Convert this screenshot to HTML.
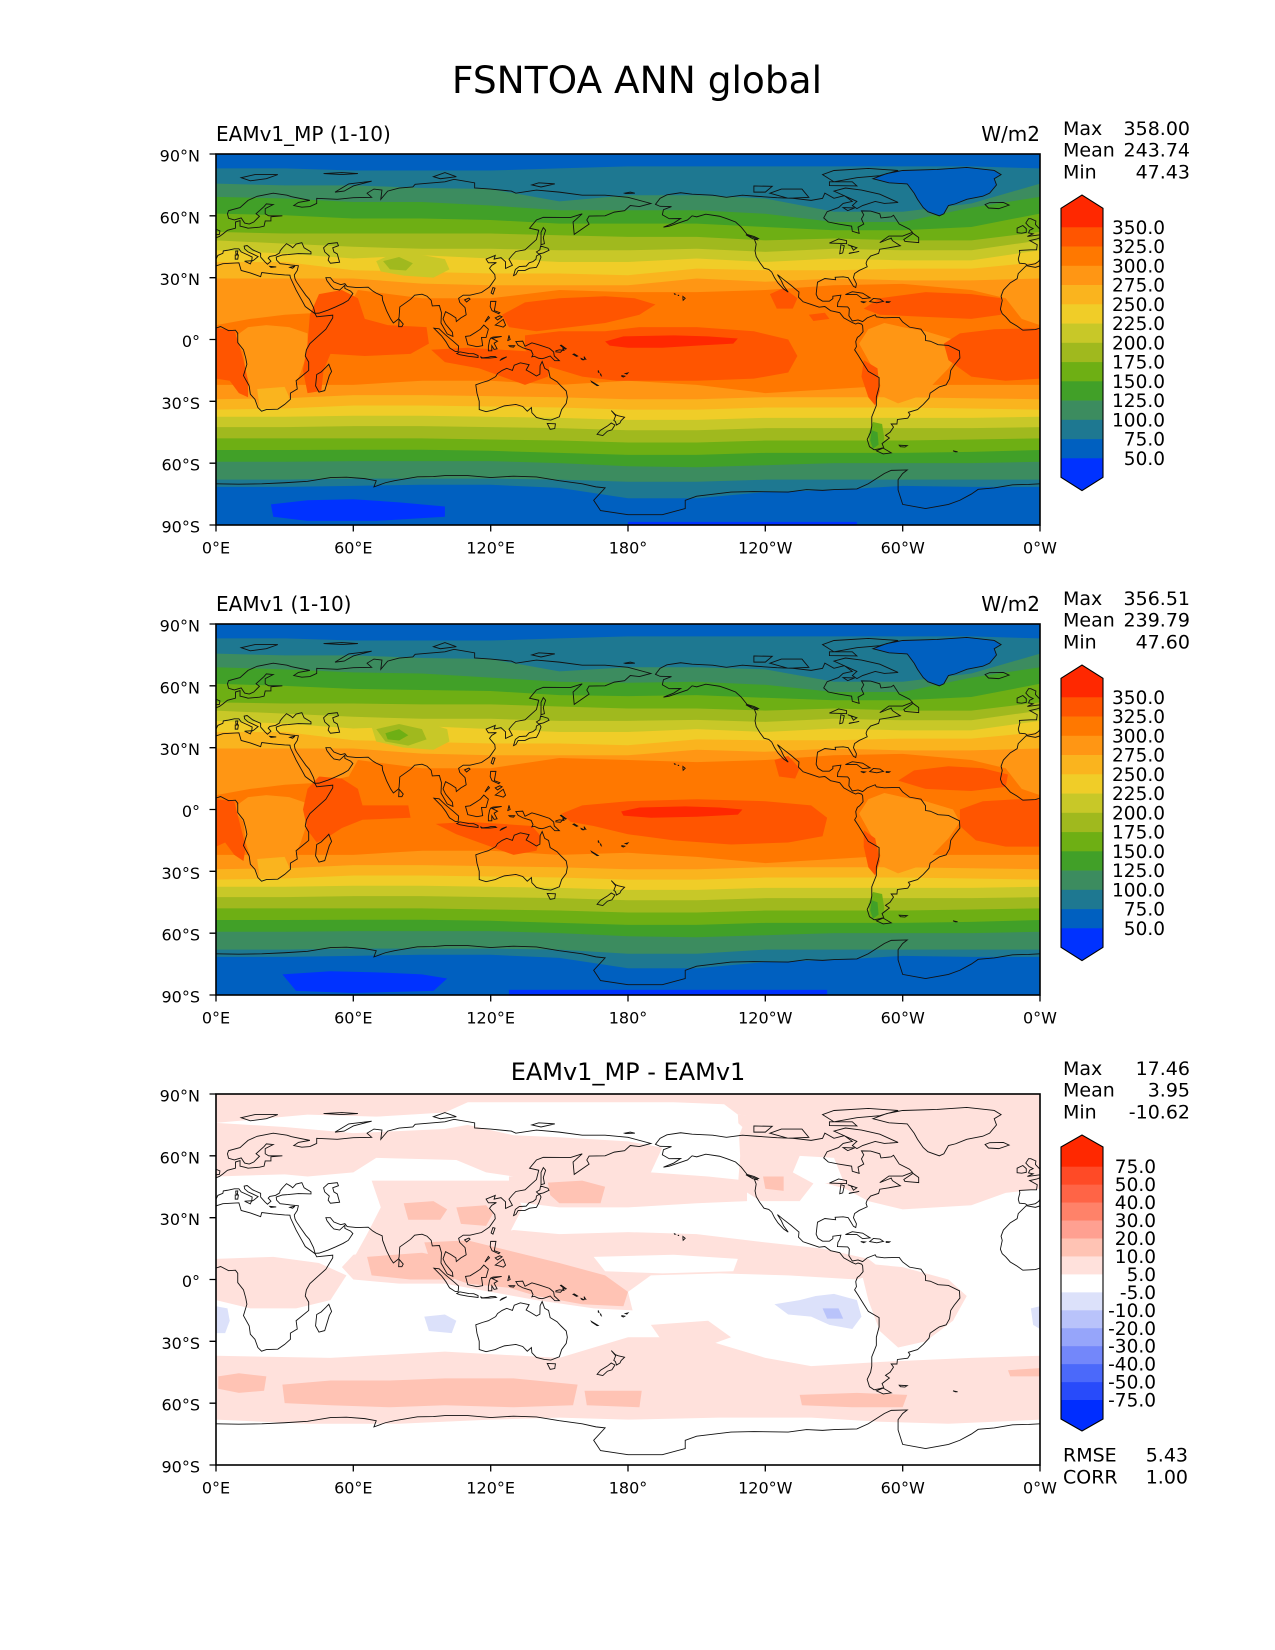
<!DOCTYPE html>
<html><head><meta charset="utf-8">
<style>
html,body{margin:0;padding:0;background:#fff}
svg{display:block}
text{font-family:"DejaVu Sans","Liberation Sans",sans-serif;fill:#000}
</style></head><body>
<svg width="1275" height="1650" viewBox="0 0 1275 1650" xmlns="http://www.w3.org/2000/svg">
<rect width="1275" height="1650" fill="#fff"/>
<defs>
<g id="coast" fill="none" stroke="#111" stroke-width="0.9">
<path vector-effect="non-scaling-stroke" d="M-17 21 -16 24 -13 27.5 -10 29.5 -9.5 32 -6 35.8 -2 35 3 36.8 10 37.2 11 33.5 15 32.3 19.5 30.5 20 32.5 25 31.8 30 31.3 32.3 31.2 32.5 30 35 24 37.5 19 39 16 43.3 12.5 44 11 51 11.8 51 10.5 48 5 44 1 41 -2 39.5 -5 39 -8 40.5 -11 40.5 -15 35 -20 35.5 -24 32.5 -26 32.5 -29 30 -31.5 27 -33.8 22 -34 19.9 -34.8 18.3 -33 17 -29 15 -26.5 14.5 -22.5 12 -17.5 13.5 -12 13 -9 12 -5 9.5 -1.5 9.5 3 8.5 4.5 5.5 4.3 2 6.3 -2 4.8 -7.5 4.5 -10 6.5 -13 8.5 -15 11 -16.5 12.5 -17.3 14.7 -16.5 19Z
M-9 37 -9.5 39 -8.8 42 -9 43.2 -4 43.5 -1.5 43.5 -1.2 46 -4.5 48 -1.5 48.7 1.5 50 3 51.2 5 53 8.5 54 8.5 57 10.5 57.7 10.5 55 12.5 54.5 14 54 19 54.5 21 55 21.5 57.5 24 57.5 24 59.5 29 60 23 60 21.5 61 21.5 63.5 25 65.5 22 65.8 21 64.5 17.5 61 19 59.8 16.5 57 14.5 56 12.5 56.5 11 59 8 58 5.5 58.8 5 61 5.5 62.5 10.5 64 14 67.5 18 69.5 25 71 31 70 33 69.3 41 67.5 36 66.5 34 65 37.5 64.2 41 64.5 44 66 44 68.5 53 68 60 68.8 68 69 66 71 69 73 72.5 72.5 72 68 75 72 80 73.5 86 74 87 75.3 100 76.5 104 77.7 113 76 113 73.5 120 73 129 72 131 71 140 72.5 150 71.5 160 70 170 70 180 69 190 66 185 64.5 181 65 178.5 62.5 174 61.8 170 60 163 59.9 162 58 163 56 156.5 51 156 57 160 61 155 59.2 151 59.2 143 59.3 140 58 137 54 141 53 140 48.5 135 43.5 131 42.7 129.5 41 128 39 129.5 36 126.5 34.5 126.5 37.7 124.5 39.7 121.5 39 122 40.8 118 39 119 37.2 122.5 37.3 120.5 36 119.5 34.5 121.8 31.5 122 29.5 119.5 25.5 116 22.8 111 21.5 108 21.5 106 20 106.5 18 108.8 15.5 109.3 12 107 10.5 105 8.7 104.8 10.5 102.5 12.2 100.3 13.5 99.2 10 100.3 7.5 103.3 3.5 103.5 1.5 101 2.7 98.3 8 98.5 13 97.6 16.5 94.5 16.3 94 19 92.2 21 90 22 86.8 21.5 85 19.5 80.3 15.8 80 11 79.8 10 77.5 8 76.3 10 74.5 14 72.8 19 72.6 21.2 70 22.5 68.5 23.5 66.5 25.4 61.5 25.2 57.3 25.7 56.3 27.1 54.5 26.6 51.5 27.9 50 30 48 30 48.5 28.5 50.2 26 51.5 24.5 54 24 56.3 26.3 56.3 24.8 58.8 23.5 59.8 22.3 57.8 19 55.5 17.5 52.2 15.8 49 14.3 45 12.8 43.3 12.7 42.6 15.5 40.8 19.5 39.2 21.5 37 25 35.1 28.1 34.5 29.5 34.2 31.3 35.5 33.5 36 35.8 32.5 36.2 30.5 36.5 28 36.8 26.5 38.5 26.3 40 29 41 31.5 41.2 36 41.7 41.5 41.5 41.5 42.5 38.5 44.5 37.5 47 35 46.3 33.5 44.5 32.5 45.4 30.8 46.5 29.5 45 28.7 44 28 43 27.8 42 26 40.8 23.5 40.3 22.8 39.5 24 38 22.5 36.5 21.5 37.5 19.5 40 19.5 41.8 16 43.5 13.6 45.6 12.3 45.3 12.5 44 14 42.5 16 41.5 18.4 40.2 16.5 38.5 15.6 38 15.8 40 14 41 11 42.5 10 44 8 44 5 43.3 3.2 43 3 41.8 0.8 40.8 0 39 -0.5 38 -2 36.8 -5.5 36 -6.5 36.8Z
M47 44.5 49 46.5 53 47 53.5 45.5 51 44.5 51.5 42.5 53 41.5 54 37.5 50 37 49 38.5 49.5 40.5 47.5 42.5Z
M-5.5 50 1.5 51 1.7 52.7 0 53.5 -2 55.8 -1.8 57.5 -4 58.6 -5 58.6 -6.2 56.5 -4.8 54.8 -3 53.8 -4.5 53 -5 51.7 -3 51.3Z
M-6 52 -6 53.8 -7.5 55.3 -10 54 -10 51.8 -8 51.6Z
M-24 65.5 -22 66.4 -16 66.5 -13.5 65.2 -18 63.5 -22.5 63.8Z
M12.5 38 15.6 38.2 15 36.7Z M8.4 41 9.8 41 9.5 39 8.4 39Z M8.6 42.9 9.5 43 9.4 41.4 8.7 41.6Z M23.5 35.5 26.3 35.2 24 35Z M32.3 35 34.5 35.6 33.5 34.6Z
M52 71.5 55 73.5 58 75.5 68 76.8 60 74.5 56 72Z
M11 78.5 17 80 27 80 22 78 15 77Z
M47 80.5 55 81 62 80.5 55 80Z
M95 79 100 81 105 79 98 78Z
M138 75 141 76 148 75.5 142 74Z
M178.5 71 181 71.5 183 71 179 70.8Z
M130 31 131 31.5 132 33.5 135 33.5 137 34.6 140 35 141 37 142 40 141.4 41.4 140 40.5 139.8 39 138.5 37.8 136.8 37.2 135.5 35.6 132.5 35.4 130.8 34Z
M140 42.5 141 41.5 143 42 145.5 43.3 145 44.3 141.8 45.4 141.5 43.5Z
M142 46 143.5 46.5 143 49.5 144 53 143 54.3 142 52 142 48Z
M120.2 22.6 121 25.2 121.9 24.9 121 22Z
M108.6 19.2 110.5 20.1 111 19.6 109.5 18.2Z
M120 18.5 122.3 18.5 122 16.5 121.6 14 124 13 123.5 12.5 120.6 14 119.8 16Z
M122 7 125.5 9.8 126.5 7 125.5 6 124 6.5Z
M122 10.5 124 11.5 125 11 123 9.5Z
M118 9 119.5 10.5 119 11.2 117.5 8.5Z
M109 1.5 110 -2.5 114 -3.5 116.5 -3 116 1 118 1 119 5 117 7 115.5 5 113.5 3.5 111 1.8Z
M95.2 5.5 97.5 5.2 100.3 2.2 103.8 -1 106 -3.2 105.8 -5.8 104.5 -5.8 102 -4 100.4 -1 98.6 1.7Z
M105.2 -6.8 106.5 -6 110.5 -6.8 112.6 -6.9 114.5 -7.8 114.5 -8.7 110 -8.1 106.5 -7.4Z
M119 -5.5 120.5 -5.5 120.5 -3 121.5 -4.8 122.8 -4.5 121.5 -1.8 123 -0.8 120.5 0.5 124.8 1.5 121 1.2 120 0.7 119.5 -0.5 119 -3.5Z
M115.5 -8.3 116.5 -8.9 119 -8.6 120 -8.3 122 -8.3 122.5 -8.7 119.5 -9 116 -9Z
M124 -10.2 125 -9.2 127 -8.4 125.5 -9.3Z
M128 2 128.5 0 127.5 -0.5Z M128 -3 130.5 -3 130 -3.7 128.5 -3.5Z
M131 -1 134 -0.8 135 -3.3 138 -1.6 141 -2.6 145.7 -4.3 147.5 -6 147.8 -8 150 -10.3 148 -10.3 146 -8 143.5 -9 142.5 -9.3 141 -9.1 139 -8.1 138 -8.4 138.5 -7.3 137.7 -5.3 134 -4 132 -2.8Z
M148.5 -5.5 150 -5 152 -5.3 151.5 -4.5 152.2 -4.2 150.5 -6.2 148.5 -6Z
M150.8 -2.7 153 -4.5 152.5 -4.7 150.5 -2.9Z
M156.5 -7 158 -8 157.5 -8.2 156 -7.2Z M159.5 -9.2 160.8 -9.8 160.3 -9.9 159.6 -9.5Z M160.8 -8.3 161.5 -9.5 161 -9.3Z
M167 -15 167.3 -16 167 -15.8Z M168 -16.5 168.3 -17.5 168 -17.2Z
M164 -20.3 167 -22.3 166.5 -22.4 164.2 -20.7Z
M177.3 -17.5 178.6 -17.8 178 -18.2 177.3 -17.9Z M178.8 -16.5 180 -16.2 179.5 -16.8Z
M113.5 -22 114 -26 115 -30 115 -34 118 -35 122 -34 124 -33 126 -32.2 131 -31.5 134 -32.5 136 -34.8 137.8 -33 138 -35.5 140 -37.8 143.5 -38.8 146.3 -39.1 150 -37.5 151 -34 153 -31 153.5 -28 153 -25 150.7 -22.5 149 -20.5 146 -18.5 145.3 -15 143.6 -14 142.5 -10.7 141.6 -12.7 141.5 -16.8 140 -17.7 137.5 -16 135.5 -14.8 136.8 -12.2 133 -11.3 130.3 -12.5 129.5 -15 127 -14 125 -15 123 -16.5 122.2 -18 119 -20 116.5 -20.8Z
M144.7 -40.7 148.3 -40.9 148 -43.2 146 -43.6Z
M172.7 -34.5 174.5 -36.5 175.8 -37 178.5 -37.7 177 -39.3 176.5 -40.5 175 -41.5 174.5 -39.8 173.8 -39.2 174.6 -37Z
M172.7 -40.5 174.3 -41.5 173 -43.8 171 -44.5 169 -46.6 166.5 -46 168 -44 171 -42Z
M49.3 -12 50.5 -15.5 49.5 -17.5 47.5 -24.8 45 -25.5 43.5 -22.5 44 -17 46 -15.7 48 -13.5Z
M79.8 6.2 80 9.8 81.8 7.5 81.2 6.2Z
M-168 65.6 -166 68.5 -163 70.2 -157 71.2 -152 70.5 -143 70 -137 69 -130 70 -124 69.5 -115 68.8 -108 68.5 -100 67.5 -95 68.5 -94 71 -90 68.5 -85.5 69.8 -82 67 -86 66 -88 64 -93 62 -94.5 59 -92.5 57 -88 56 -82.3 55 -82 52.5 -79 51.5 -79.5 54.5 -77 56 -78 58.5 -77 60.5 -78 62.4 -74 62.3 -70 61 -69.5 59 -65 59.5 -64 60.3 -61.5 56 -57 53.5 -55.7 52 -60 50.2 -66 50.2 -70 47 -65 49.2 -64.5 48 -61 45.5 -66 44.5 -70 43.8 -70.5 41.8 -74 40.5 -75.5 38.5 -76 37 -75.5 35.3 -77 34.5 -79 33.5 -81 32 -81.5 30 -80.2 27 -80.5 25.2 -81.5 25.8 -82.7 28 -83.8 30 -86 30.4 -89.5 30.2 -89.3 29 -91 29.2 -94 29.6 -97.2 27.8 -97.5 25 -97.8 22 -97 20 -95 18.6 -92 18.6 -90.5 19.8 -90.5 21 -87 21.5 -87.5 19.5 -88.3 18 -88.5 16 -84 15.8 -83.3 14.8 -83.5 11.5 -82 9 -79.5 9.5 -77.5 8.7 -75.5 10.5 -72 12 -71.5 11 -68 10.5 -64 10.7 -61.5 10.7 -60 8.5 -57 6 -52 5 -50 1.8 -50 -0.5 -48 -0.8 -44.5 -2.5 -40 -2.9 -35.2 -5.5 -35 -9 -37.5 -12.5 -39 -15 -39.5 -19 -41 -22 -44 -23 -48 -26 -48.5 -28.5 -51 -31.5 -53.5 -34 -57.5 -35.3 -56.8 -36.5 -57.8 -38.2 -62.3 -38.8 -62.5 -41 -65 -41 -64 -42.5 -65.5 -45 -67.5 -46.5 -65.8 -47.8 -69 -50.5 -68.3 -52.4 -70 -53 -72.5 -53.5 -74.5 -52 -75.5 -48.5 -74 -45 -73.5 -42 -73.5 -37.5 -71.5 -32 -71.5 -28 -70.3 -23 -70.3 -18.5 -75 -15.5 -77 -12 -79.5 -7.5 -81 -5 -80.2 -3.5 -80.5 -1 -79.8 1 -78.8 1.8 -77.3 3.8 -77.5 6.8 -78 7.5 -79.5 8 -80.5 7.5 -82 8.2 -85.7 10.5 -87.5 13 -91.5 14 -94 16 -96.5 15.7 -100 17 -103.5 18.3 -105.5 20.5 -105.3 23 -109 26.5 -112.5 29.5 -114.7 31.5 -113 28.5 -112 26 -110 23 -112 24.5 -114.5 27.5 -116 30 -117.2 32.7 -118.5 34 -120.6 34.6 -122.5 37.5 -124 40.3 -124.5 43 -124 46.3 -124.7 48.4 -123 49 -125 50 -128 51 -130.5 54.5 -133 57 -136.5 58.5 -140 59.8 -146 60.8 -150 59.5 -152 60 -154 58 -158 56.5 -162 55 -164.5 54.5 -160 56.5 -157 58.7 -162 58.6 -165 60.5 -164.5 63 -161 64.5 -166 64.6Z
M-80 63.5 -77.5 65 -72 67 -68 66 -62 66.5 -66 68.5 -70 70.5 -78 72.5 -85 73.5 -90 72 -85 69.5 -80 67 -82 65Z
M-118 71 -110 68.5 -101 69 -104 73 -113 73Z
M-125 71.5 -120 71.5 -117 74.3 -125 74.5Z
M-90 76.5 -80 78.5 -70 79.5 -62 82 -75 83 -90 82 -95 80Z
M-92 74.7 -80 74.5 -82 76.5 -92 76.5Z
M-86 64 -81 63.8 -84 62.5Z
M-59 47.6 -53 47 -53 49.5 -55.5 51.5 -59.5 48.5Z
M-128.5 50.8 -124 49 -123.5 48.4 -125.5 48.9Z
M-92 46.8 -84.5 46.5 -84.5 48 -88 48.8Z M-87.5 41.6 -87 46 -85.5 45.5 -86.2 42Z M-84 46 -80 44.5 -81.5 43.3 -82.5 45.3Z M-83.5 41.7 -79 42.8 -80 42.5 -83 42Z
M-73 78 -66 76 -58 75.5 -55 71 -53.5 68 -51 64 -49 62 -44 60 -42 61 -40 65 -37 65.8 -32 68 -25 69.5 -22 71 -19 75 -20 78 -17 80 -20 82 -32 83.5 -45 82.5 -60 82 -67 80.5Z
M-85 21.8 -82 23.2 -77.5 22.5 -74.2 20.2 -77.5 19.8 -80 21.8Z
M-74.4 18.4 -72.8 19.9 -69.9 19.6 -68.4 18.5 -71.3 17.8Z
M-78.3 18.4 -76.3 18.2 -77 17.8Z M-67.2 18.4 -65.6 18.3 -66 18 -67.2 18Z
M-156 20.9 -155 20 -155.9 19 -156 19.8Z M-158.2 21.6 -157.7 21.3 -158 21.3Z M-159.7 22.2 -159.3 22 -159.6 21.9Z
M-68.5 -52.7 -65 -55 -68.5 -55.5 -71.5 -54Z
M-61.5 -51.3 -58 -51.5 -59 -52.2 -61 -52Z
M-38 -54 -36 -54.5 -37 -54.5Z
M0 -70 10 -70.2 20 -70 30 -69.5 40 -68.8 50 -67 57 -66.8 65 -67.5 70 -68.5 69 -71.5 74 -69.5 78 -68.5 88 -66.6 95 -66.5 100 -66 110 -66 120 -67 130 -66.3 140 -66.7 150 -68.5 160 -70 166 -71.5 170 -72 165 -78 168 -83 180 -85 195 -85 205 -82 205 -78 210 -76 225 -74 235 -73.8 250 -74 258 -72.8 265 -73.2 270 -72.8 280 -72.5 285 -70 292 -65 295 -63.5 302 -63.3 300 -65 298 -68 298 -73 300 -80 310 -82 320 -80 325 -78 330 -75 333 -72.7 340 -72 348 -70.5 355 -70.3 360 -70"/>
</g>
</defs>

<text x="637" y="93" font-size="37.5" text-anchor="middle">FSNTOA ANN global</text>

<!-- ============ MAP 1 ============ -->
<g>
<svg x="216" y="154" width="824" height="371" viewBox="0 0 360 180" preserveAspectRatio="none">
<rect x="0" y="0" width="360" height="180" fill="#0060c0"/>
<path fill="#1e7891" d="M0 7 30 7 60 8 90 8 120 8 150 7 180 6 210 6 240 6 270 6 300 6 330 6 360 7 360 161.5 330 161.5 300 161 270 163 240 164 210 167 180 167 150 162 120 160.5 90 160.5 60 161 30 161.5 0 161.5Z"/>
<path fill="#3c8c5f" d="M0 14.4 30 15.2 60 15.2 90 16.5 120 17 150 23 180 20 210 20 240 21.6 270 28 300 28 330 24 360 14.4 360 158 330 158 300 158 270 158 240 158 210 159 180 159 150 158 120 157.5 90 157.5 60 157.5 30 158 0 158Z"/>
<path fill="#41a028" d="M0 20.8 30 21.6 60 23.3 90 23.3 120 25 150 27.3 180 27.3 210 27.3 240 29 270 33 300 33 330 26 360 20.8 360 149.3 330 150 300 150 270 150 240 151 210 152 180 151.5 150 150 120 149 90 149 60 149 30 149.3 0 149.3Z"/>
<path fill="#6eaf14" d="M0 28.9 30 29.7 60 31.3 90 31.3 120 32 150 33.8 180 33.8 210 33.8 240 35.4 270 37 300 37 330 35.4 360 28.9 360 143.6 330 144.5 300 145 270 145 240 145 210 146 180 146 150 145 120 144 90 143.5 60 143.5 30 143.6 0 143.6Z"/>
<path fill="#a0b91e" d="M0 37.8 30 38.6 60 38.6 90 38.6 120 38.6 150 39.4 180 40.2 210 40.2 240 41.9 270 41 300 41.9 330 41.9 360 37.8 360 138 330 138.5 300 139 270 139 240 139 210 140 180 140 150 139 120 138.5 90 138 60 138 30 138 0 138Z"/>
<path fill="#c8c828" d="M0 41.9 30 43.5 60 45 90 46 120 46 150 46.7 180 46.7 210 46 240 47.5 270 46 300 46.7 330 46.7 360 41.9 360 132.5 330 133 300 133 270 133 240 133 210 134 180 134 150 133 120 132.5 90 132 60 132 30 132.5 0 132.5Z"/>
<path fill="#f0cd28" d="M0 46.7 30 48.3 60 50.7 90 49.1 120 50.7 150 52.4 180 52.4 210 50.7 240 52.4 270 50.7 300 51.6 330 51.6 360 46.7 360 127.5 330 128 300 128 270 128 240 128 210 129 180 129 150 128 120 127.5 90 127 60 127 30 127.5 0 127.5Z"/>
<path fill="#fab41e" d="M0 52.4 30 52.4 60 56.4 90 57.2 120 58 150 58 180 58.8 210 55.6 240 56.4 270 56.4 300 55.6 330 55.6 360 52.4 360 124 330 123.5 300 123 270 123 240 123 210 124 180 124 150 123 120 122.5 90 122 60 122 30 123.5 0 124Z"/>
<path fill="#ff9614" d="M0 60.4 30 60.4 60 60.4 90 62.9 120 63.7 150 63.7 180 63.7 210 60.4 240 62 270 60.4 300 61.3 330 61.3 360 60.4 360 119 330 118.5 300 118 270 118 240 118 210 119 180 119 150 118 120 117.5 90 117 60 117 30 118.5 0 119Z"/>
<path fill="#ff7800" d="M0 83 15 80 30 78 45 77 58 74 62 66 90 70 120 70 150 66 180 67 210 67 240 66 270 63.7 300 63 330 66 345 70 352 80 360 83 360 112 330 112 300 112 270 114 240 116 210 112 180 110 150 112 120 110 90 110 60 112 30 112 0 112Z"/>
<path fill="#c8c828" d="M70 52 78 48 90 49 100 51 102 56 95 60 82 59 72 57Z"/>
<path fill="#a0b91e" d="M73 52 80 50 86 53 83 56.5 76 56Z"/>
<path fill="#ff9614" d="M9 88 14 84 22 83 32 84 40 87 40 96 37 106 33 116 26 122 19 123 16 116 13 106 12 96 9 92Z"/>
<path fill="#fab41e" d="M18 114 30 113 32 118 27 123 19 123Z"/>
<path fill="#ff9614" d="M281 92 285 85 292 82 300 84 310 86 322 90 325 96 320 104 313 112 306 118 298 121 292 118 289 108 285 100Z"/>
<path fill="#6eaf14" d="M287 130 291 131 292 138 290 144 286 143 285 136Z"/>
<path fill="#41a028" d="M286.5 134 289 135 289.5 141 287 143 285.8 139Z"/>
<g fill="#ff5500">
<path d="M318 92 325 87 340 85 360 84.5 360 109 345 110 330 108 320 100Z"/>
<path d="M0 84.5 8 85.5 10 92 12 100 14 110 14 118 10 116 6 110 0 109Z"/>
<path d="M283 75 290 70 310 67 330 68 343 70 343 78 330 80 310 79 290 78Z"/>
<path d="M41 78 45 68 55 66 62 70 65 80 75 83 92 84 93 92 85 97 65 98 50 97 47 105 46 115 40 116 38 105 40 92Z"/>
<path d="M94 95 110 94 125 95 140 96 146 100 145 108 135 112 125 108 115 104 100 101Z"/>
<path d="M125 78 135 72 150 70 170 69 183 70 192 73 185 78 170 82 155 84 140 86 128 84Z"/>
<path d="M135 88 150 86 170 86 185 84 210 84 235 86 250 90 254 98 250 106 235 109 210 110 190 110 175 110 160 108 145 103 135 95Z"/>
<path d="M242 68 248 65 254 70 252 75 245 75Z"/>
<path d="M283 100 289 104 290 115 288 122 285 118 282 108Z"/>
<path d="M259 78 266 77 268 80 261 81Z"/>
</g>
<path fill="#ff2800" d="M170 91 178 88.5 200 88 215 88.5 228 89.5 226 92 210 93 195 94 180 94 172 93Z"/>
<path fill="#0032ff" d="M24 170 40 168 60 167.5 80 169 100 171 100 176 70 178 40 178 25 176Z"/>
<rect x="180" y="178.5" width="100" height="1.5" fill="#0032ff"/>
<g transform="translate(0 90) scale(1 -1)">
<path fill="#0060c0" d="M287 78 294 76 302 75.5 305 71 306.5 68 309 64 311 62 316 60 318 61 320 65 323 65.8 328 68 335 69.5 338 71 341 75 340 78 343 80 340 82 328 83.5 315 82.5 300 82 293 80.5Z"/>
<use href="#coast"/><use href="#coast" x="360"/>
</g>
</svg>
<rect x="216" y="154" width="824" height="371" fill="none" stroke="#000" stroke-width="1.6"/>
<path stroke="#000" stroke-width="1.3" fill="none" d="M209.5 154H216M209.5 215.8H216M209.5 277.7H216M209.5 339.5H216M209.5 401.3H216M209.5 463.2H216M209.5 525H216M216 525V531.5M353.3 525V531.5M490.7 525V531.5M628 525V531.5M765.3 525V531.5M902.7 525V531.5M1040 525V531.5"/>
<g font-size="16" text-anchor="end">
<text x="200" y="161.5">90°N</text><text x="200" y="223.3">60°N</text><text x="200" y="285.2">30°N</text><text x="200" y="347">0°</text><text x="200" y="408.8">30°S</text><text x="200" y="470.7">60°S</text><text x="200" y="532.5">90°S</text>
</g>
<g font-size="16" text-anchor="middle">
<text x="216" y="553.3">0°E</text><text x="353.3" y="553.3">60°E</text><text x="490.7" y="553.3">120°E</text><text x="628" y="553.3">180°</text><text x="765.3" y="553.3">120°W</text><text x="902.7" y="553.3">60°W</text><text x="1040" y="553.3">0°W</text>
</g>
<text x="216" y="141" font-size="20">EAMv1_MP (1-10)</text>
<text x="1040" y="141" font-size="20" text-anchor="end">W/m2</text>
<g font-size="19">
<text x="1063" y="135">Max</text><text x="1063" y="156.7">Mean</text><text x="1063" y="178.3">Min</text>
<text x="1190" y="135" text-anchor="end">358.00</text><text x="1190" y="156.7" text-anchor="end">243.74</text><text x="1190" y="178.3" text-anchor="end">47.43</text>
</g>
<path fill="#ff2800" d="M1061 227.6V208.3L1082 195L1103 208.3V227.6Z"/>
<rect x="1061" y="227.3" width="42" height="19.6" fill="#ff5500"/>
<rect x="1061" y="246.55" width="42" height="19.6" fill="#ff7800"/>
<rect x="1061" y="265.8" width="42" height="19.6" fill="#ff9614"/>
<rect x="1061" y="285.05" width="42" height="19.6" fill="#fab41e"/>
<rect x="1061" y="304.3" width="42" height="19.6" fill="#f0cd28"/>
<rect x="1061" y="323.55" width="42" height="19.6" fill="#c8c828"/>
<rect x="1061" y="342.8" width="42" height="19.6" fill="#a0b91e"/>
<rect x="1061" y="362.05" width="42" height="19.6" fill="#6eaf14"/>
<rect x="1061" y="381.3" width="42" height="19.6" fill="#41a028"/>
<rect x="1061" y="400.55" width="42" height="19.6" fill="#3c8c5f"/>
<rect x="1061" y="419.8" width="42" height="19.6" fill="#1e7891"/>
<rect x="1061" y="439.05" width="42" height="19.6" fill="#0060c0"/>
<path fill="#0032ff" d="M1061 458.3V477.3L1082 490.6L1103 477.3V458.3Z"/>
<path fill="none" stroke="#000" stroke-width="1.1" d="M1061 208.3L1082 195L1103 208.3V477.3L1082 490.6L1061 477.3Z"/>
<g font-size="18.5" text-anchor="end">
<text x="1165" y="233.8">350.0</text><text x="1165" y="253.05">325.0</text><text x="1165" y="272.3">300.0</text><text x="1165" y="291.55">275.0</text><text x="1165" y="310.8">250.0</text><text x="1165" y="330.05">225.0</text><text x="1165" y="349.3">200.0</text><text x="1165" y="368.55">175.0</text><text x="1165" y="387.8">150.0</text><text x="1165" y="407.05">125.0</text><text x="1165" y="426.3">100.0</text><text x="1165" y="445.55">75.0</text><text x="1165" y="464.8">50.0</text>
</g>
</g>

<!-- ============ MAP 2 ============ -->
<g transform="translate(0 470)">
<svg x="216" y="154" width="824" height="371" viewBox="0 0 360 180" preserveAspectRatio="none">
<rect x="0" y="0" width="360" height="180" fill="#0060c0"/>
<path fill="#1e7891" d="M0 7 30 7 60 8 90 8 120 8 150 7 180 6 210 6 240 6 270 6 300 6 330 6 360 7 360 161.5 330 161.5 300 161 270 163 240 164 210 167 180 167 150 162 120 160.5 90 160.5 60 161 30 161.5 0 161.5Z"/>
<path fill="#3c8c5f" d="M0 14.4 30 15.2 60 15.2 90 16.5 120 17 150 23 180 21 210 21 240 22 270 28 300 28 330 24 360 14.4 360 158 330 158 300 158 270 158 240 158 210 160 180 160 150 158 120 157.5 90 157.5 60 157.5 30 158 0 158Z"/>
<path fill="#41a028" d="M0 21 30 22 60 23.5 90 24 120 26 150 28 180 28.5 210 28 240 29.5 270 33 300 33 330 26 360 21 360 149.3 330 150 300 150 270 150 240 151 210 152 180 151.5 150 150 120 149 90 149 60 149 30 149.3 0 149.3Z"/>
<path fill="#6eaf14" d="M0 29 30 30 60 31.5 90 32 120 32.5 150 34.5 180 35 210 34.5 240 35.8 270 37 300 37 330 35.4 360 29 360 143.6 330 144.5 300 145 270 145 240 145 210 146 180 146 150 145 120 144 90 143.5 60 143.5 30 143.6 0 143.6Z"/>
<path fill="#a0b91e" d="M0 38 30 38.6 60 38.6 90 39 120 39 150 40 180 41 210 41 240 42 270 41 300 42 330 42 360 38 360 138 330 138.5 300 139 270 139 240 139 210 140 180 140 150 139 120 138.5 90 138 60 138 30 138 0 138Z"/>
<path fill="#c8c828" d="M0 42 30 43.5 60 45 90 46 120 46 150 47 180 47 210 46.5 240 47.5 270 46 300 46.7 330 46.7 360 42 360 132.5 330 133 300 133 270 133 240 133 210 134 180 134 150 133 120 132.5 90 132 60 132 30 132.5 0 132.5Z"/>
<path fill="#f0cd28" d="M0 47 30 48.3 60 50.7 90 49.5 120 51 150 52.4 180 52.4 210 51 240 52.4 270 50.7 300 51.6 330 51.6 360 47 360 127.5 330 128 300 128 270 128 240 128 210 129 180 129 150 128 120 127.5 90 127 60 127 30 127.5 0 127.5Z"/>
<path fill="#fab41e" d="M0 52.4 30 52.4 60 56.4 90 57.2 120 58 150 58 180 58.8 210 56 240 56.4 270 56.4 300 55.6 330 55.6 360 52.4 360 124 330 123.5 300 123 270 123 240 123 210 124 180 124 150 123 120 122.5 90 122 60 122 30 123.5 0 124Z"/>
<path fill="#ff9614" d="M0 60.4 30 60.4 60 60.4 90 62.9 120 63.7 150 63.7 180 63.7 210 61 240 62 270 60.4 300 61.3 330 61.3 360 60.4 360 119 330 118.5 300 118 270 118 240 118 210 119 180 119 150 118 120 117.5 90 117 60 117 30 118.5 0 119Z"/>
<path fill="#ff7800" d="M0 83 15 80 30 78 45 77 58 74 62 66 90 70 120 70 150 65 180 66 210 67 240 66 270 63.7 300 63 330 66 345 70 352 80 360 83 360 112 330 112 300 112 270 114 240 116 210 113 180 111 150 112 120 110 90 110 60 112 30 112 0 112Z"/>
<path fill="#c8c828" d="M68 50 78 47 92 48 101 51 102 57 95 61 82 60 70 57Z"/>
<path fill="#a0b91e" d="M70 51 80 48.5 90 51 92 56 84 59 74 57Z"/>
<path fill="#6eaf14" d="M74 53 80 51 84 54 80 56.5 75 56Z"/>
<path fill="#ff9614" d="M9 88 14 84 22 83 32 84 40 87 40 96 37 106 33 116 26 122 19 123 16 116 13 106 12 96 9 92Z"/>
<path fill="#fab41e" d="M18 114 30 113 32 118 27 123 19 123Z"/>
<path fill="#ff9614" d="M281 92 285 85 292 82 300 84 310 86 322 90 325 96 320 104 313 112 306 118 298 121 292 118 289 108 285 100Z"/>
<path fill="#6eaf14" d="M287 130 291 131 292 138 290 144 286 143 285 136Z"/>
<path fill="#41a028" d="M286.5 134 289 135 289.5 141 287 143 285.8 139Z"/>
<g fill="#ff5500">
<path d="M325 90 335 86 350 85 360 85 360 108 345 108 332 105 325 98Z"/>
<path d="M0 85 8 86 10 95 13 108 12 115 8 112 4 106 0 108Z"/>
<path d="M298 76 305 71 320 69 335 70 346 73 345 79 330 81 310 80Z"/>
<path d="M40 80 45 74 55 75 62 80 64 88 84 88 85 94 64 95 55 99 48 104 44 106 40 100 38 90Z"/>
<path d="M96 97 110 96 125 97 138 98 142 103 140 110 130 112 120 108 105 102Z"/>
<path d="M151 92 160 88 180 86 210 85 240 86 260 88 267 94 265 103 250 106 225 107 200 105 180 102 165 98 155 96Z"/>
<path d="M244 66 250 64 255 70 253 75 246 74Z"/>
<path d="M283 100 288 104 290 115 288 122 285 118 283 108Z"/>
</g>
<path fill="#ff2800" d="M177 91 185 89 205 88.5 220 89 230 90 228 92.5 210 93.5 190 94 178 93Z"/>
<path fill="#0032ff" d="M29 170 50 168.5 70 169 90 170 101 172 95 178 60 179 35 178Z"/>
<rect x="128" y="177.5" width="139" height="2.5" fill="#0032ff"/>
<g transform="translate(0 90) scale(1 -1)">
<path fill="#0060c0" d="M287 78 294 76 302 75.5 305 71 306.5 68 309 64 311 62 316 60 318 61 320 65 323 65.8 328 68 335 69.5 338 71 341 75 340 78 343 80 340 82 328 83.5 315 82.5 300 82 293 80.5Z"/>
<use href="#coast"/><use href="#coast" x="360"/>
</g>
</svg>
<rect x="216" y="154" width="824" height="371" fill="none" stroke="#000" stroke-width="1.6"/>
<path stroke="#000" stroke-width="1.3" fill="none" d="M209.5 154H216M209.5 215.8H216M209.5 277.7H216M209.5 339.5H216M209.5 401.3H216M209.5 463.2H216M209.5 525H216M216 525V531.5M353.3 525V531.5M490.7 525V531.5M628 525V531.5M765.3 525V531.5M902.7 525V531.5M1040 525V531.5"/>
<g font-size="16" text-anchor="end">
<text x="200" y="161.5">90°N</text><text x="200" y="223.3">60°N</text><text x="200" y="285.2">30°N</text><text x="200" y="347">0°</text><text x="200" y="408.8">30°S</text><text x="200" y="470.7">60°S</text><text x="200" y="532.5">90°S</text>
</g>
<g font-size="16" text-anchor="middle">
<text x="216" y="553.3">0°E</text><text x="353.3" y="553.3">60°E</text><text x="490.7" y="553.3">120°E</text><text x="628" y="553.3">180°</text><text x="765.3" y="553.3">120°W</text><text x="902.7" y="553.3">60°W</text><text x="1040" y="553.3">0°W</text>
</g>
<text x="216" y="141" font-size="20">EAMv1 (1-10)</text>
<text x="1040" y="141" font-size="20" text-anchor="end">W/m2</text>
<g font-size="19">
<text x="1063" y="135">Max</text><text x="1063" y="156.7">Mean</text><text x="1063" y="178.3">Min</text>
<text x="1190" y="135" text-anchor="end">356.51</text><text x="1190" y="156.7" text-anchor="end">239.79</text><text x="1190" y="178.3" text-anchor="end">47.60</text>
</g>
<path fill="#ff2800" d="M1061 227.6V208.3L1082 195L1103 208.3V227.6Z"/>
<rect x="1061" y="227.3" width="42" height="19.6" fill="#ff5500"/>
<rect x="1061" y="246.55" width="42" height="19.6" fill="#ff7800"/>
<rect x="1061" y="265.8" width="42" height="19.6" fill="#ff9614"/>
<rect x="1061" y="285.05" width="42" height="19.6" fill="#fab41e"/>
<rect x="1061" y="304.3" width="42" height="19.6" fill="#f0cd28"/>
<rect x="1061" y="323.55" width="42" height="19.6" fill="#c8c828"/>
<rect x="1061" y="342.8" width="42" height="19.6" fill="#a0b91e"/>
<rect x="1061" y="362.05" width="42" height="19.6" fill="#6eaf14"/>
<rect x="1061" y="381.3" width="42" height="19.6" fill="#41a028"/>
<rect x="1061" y="400.55" width="42" height="19.6" fill="#3c8c5f"/>
<rect x="1061" y="419.8" width="42" height="19.6" fill="#1e7891"/>
<rect x="1061" y="439.05" width="42" height="19.6" fill="#0060c0"/>
<path fill="#0032ff" d="M1061 458.3V477.3L1082 490.6L1103 477.3V458.3Z"/>
<path fill="none" stroke="#000" stroke-width="1.1" d="M1061 208.3L1082 195L1103 208.3V477.3L1082 490.6L1061 477.3Z"/>
<g font-size="18.5" text-anchor="end">
<text x="1165" y="233.8">350.0</text><text x="1165" y="253.05">325.0</text><text x="1165" y="272.3">300.0</text><text x="1165" y="291.55">275.0</text><text x="1165" y="310.8">250.0</text><text x="1165" y="330.05">225.0</text><text x="1165" y="349.3">200.0</text><text x="1165" y="368.55">175.0</text><text x="1165" y="387.8">150.0</text><text x="1165" y="407.05">125.0</text><text x="1165" y="426.3">100.0</text><text x="1165" y="445.55">75.0</text><text x="1165" y="464.8">50.0</text>
</g>
</g>

<!-- ============ MAP 3 (diff) ============ -->
<g transform="translate(0 940)">
<svg x="216" y="154" width="824" height="371" viewBox="0 0 360 180" preserveAspectRatio="none">
<rect x="0" y="0" width="360" height="180" fill="#ffffff"/>
<g fill="#ffe1dc">
<path d="M0 0 360 0 360 20 345 19 330 18 300 18 270 14 245 12 228 10 222 5 200 4 150 4 110 4 100 9 70 11 40 10 20 12 0 14Z"/>
<path d="M0 14 30 16 60 19 100 17 110 15 130 20 150 21 180 23 195 26 190 38 175 42 150 40 130 40 118 38 105 32 70 31 60 38 40 40 30 39 0 40Z"/>
<path d="M228 10 250 12 275 14 300 17 330 17 360 19 360 46 345 48 330 54 300 56 285 52 275 46 262 42 255 52 238 52 228 45 229 30Z"/>
<path d="M128 40 160 38 190 38 215 40 232 42 232 52 210 53 180 55 150 55 128 52Z"/>
<path d="M68 42 95 42 128 42 134 55 128 68 115 76 100 80 80 82 60 80 66 68 72 55Z"/>
<path d="M60 78 100 72 130 66 150 68 180 67 210 68 240 72 265 75 285 80 292 86 280 90 250 88 220 87 190 88 180 96 182 105 165 104 140 100 120 96 100 92 80 92 60 90 55 84Z"/>
<path d="M0 80 25 79 45 82 57 88 50 100 35 104 15 104 0 100Z"/>
<path d="M281 82 300 84 320 90 328 98 322 110 310 120 298 123 290 115 285 100Z"/>
<path d="M0 127 50 128 100 125 150 128 180 118 210 118 240 128 260 132 290 130 330 128 360 127 360 158 320 160 290 159 260 157 220 157 180 158 150 157 120 158 80 160 40 160 0 158Z"/>
<path d="M190 112 215 110 225 118 215 122 195 120Z"/>
</g>
<g fill="#ffffff">
<path d="M255 30 270 31 274 42 262 44 252 38Z"/>
<path d="M165 79 200 78 228 80 226 86 195 87 170 86Z"/>
<path d="M195 8 222 8 230 16 225 30 210 34 196 30 192 18Z"/>
</g>
<g fill="#ffc3b4">
<path d="M1 137 10 135.5 22 137 21 144 10 145 1 143Z"/>
<path d="M29 141 50 139 76 139 100 138 130 138 158 141 156 151 130 152 100 151 76 152 50 151 30 150Z"/>
<path d="M161 144 186 144 185 152 162 151Z"/>
<path d="M255 146 280 145 302 146 300 152 278 152 256 151Z"/>
<path d="M66 79 90 77 103 80 104 90 85 90 68 88Z"/>
<path d="M91 72 110 71 128 76 150 82 170 88 180 96 178 103 160 102 140 98 128 94 110 92 95 86Z"/>
<path d="M82 53 95 52 101 56 98 61 84 61Z"/>
<path d="M105 55 118 54 121 58 118 64 107 63Z"/>
<path d="M145 43 160 42 170 45 168 53 150 53 146 49Z"/>
<path d="M239 40 248 40 248 47 240 46Z"/>
<path d="M346 134 360 133 360 137 347 137Z"/>
</g>
<g fill="#dce1fa">
<path d="M244 102 255 100 262 98 270 97 280 100 282 108 278 114 268 112 260 108 250 107Z"/>
<path d="M91 108 100 107 105 110 103 116 93 115Z"/>
<path d="M0 103 5 104 6 110 4 116 0 116Z"/>
<path d="M356 104 360 103 360 114 357 112Z"/>
</g>
<path fill="#b9c3fa" d="M265 104 272 104 274 109 267 109Z"/>
<g transform="translate(0 90) scale(1 -1)">
<use href="#coast"/><use href="#coast" x="360"/>
</g>
</svg>
<rect x="216" y="154" width="824" height="371" fill="none" stroke="#000" stroke-width="1.6"/>
<path stroke="#000" stroke-width="1.3" fill="none" d="M209.5 154H216M209.5 215.8H216M209.5 277.7H216M209.5 339.5H216M209.5 401.3H216M209.5 463.2H216M209.5 525H216M216 525V531.5M353.3 525V531.5M490.7 525V531.5M628 525V531.5M765.3 525V531.5M902.7 525V531.5M1040 525V531.5"/>
<g font-size="16" text-anchor="end">
<text x="200" y="161.5">90°N</text><text x="200" y="223.3">60°N</text><text x="200" y="285.2">30°N</text><text x="200" y="347">0°</text><text x="200" y="408.8">30°S</text><text x="200" y="470.7">60°S</text><text x="200" y="532.5">90°S</text>
</g>
<g font-size="16" text-anchor="middle">
<text x="216" y="553.3">0°E</text><text x="353.3" y="553.3">60°E</text><text x="490.7" y="553.3">120°E</text><text x="628" y="553.3">180°</text><text x="765.3" y="553.3">120°W</text><text x="902.7" y="553.3">60°W</text><text x="1040" y="553.3">0°W</text>
</g>
<text x="628" y="140" font-size="24" text-anchor="middle">EAMv1_MP - EAMv1</text>
<g font-size="19">
<text x="1063" y="135">Max</text><text x="1063" y="156.7">Mean</text><text x="1063" y="178.3">Min</text>
<text x="1190" y="135" text-anchor="end">17.46</text><text x="1190" y="156.7" text-anchor="end">3.95</text><text x="1190" y="178.3" text-anchor="end">-10.62</text>
<text x="1063" y="521.7">RMSE</text><text x="1063" y="543.3">CORR</text>
<text x="1188" y="521.7" text-anchor="end">5.43</text><text x="1188" y="543.3" text-anchor="end">1.00</text>
</g>
<path fill="#ff2800" d="M1061 227V207L1082 195L1103 207V227Z"/>
<rect x="1061" y="226.7" width="42" height="18.3" fill="#ff4a26"/>
<rect x="1061" y="244.65" width="42" height="18.3" fill="#ff6446"/>
<rect x="1061" y="262.6" width="42" height="18.3" fill="#ff8269"/>
<rect x="1061" y="280.55" width="42" height="18.3" fill="#ffa091"/>
<rect x="1061" y="298.5" width="42" height="18.3" fill="#ffc3b4"/>
<rect x="1061" y="316.45" width="42" height="18.3" fill="#ffe1dc"/>
<rect x="1061" y="334.4" width="42" height="18.3" fill="#ffffff"/>
<rect x="1061" y="352.35" width="42" height="18.3" fill="#dce1fa"/>
<rect x="1061" y="370.3" width="42" height="18.3" fill="#b9c3fa"/>
<rect x="1061" y="388.25" width="42" height="18.3" fill="#96a5fa"/>
<rect x="1061" y="406.2" width="42" height="18.3" fill="#7387fa"/>
<rect x="1061" y="424.15" width="42" height="18.3" fill="#4b69fa"/>
<rect x="1061" y="442.1" width="42" height="18.3" fill="#284bfa"/>
<path fill="#002dff" d="M1061 460V479L1082 491L1103 479V460Z"/>
<path fill="none" stroke="#000" stroke-width="1.1" d="M1061 207L1082 195L1103 207V479L1082 491L1061 479Z"/>
<g font-size="18.5" text-anchor="end">
<text x="1156" y="233.2">75.0</text><text x="1156" y="251.15">50.0</text><text x="1156" y="269.1">40.0</text><text x="1156" y="287.05">30.0</text><text x="1156" y="305">20.0</text><text x="1156" y="322.95">10.0</text><text x="1156" y="340.9">5.0</text><text x="1156" y="358.85">-5.0</text><text x="1156" y="376.8">-10.0</text><text x="1156" y="394.75">-20.0</text><text x="1156" y="412.7">-30.0</text><text x="1156" y="430.65">-40.0</text><text x="1156" y="448.6">-50.0</text><text x="1156" y="466.55">-75.0</text>
</g>
</g>
</svg>
</body></html>
